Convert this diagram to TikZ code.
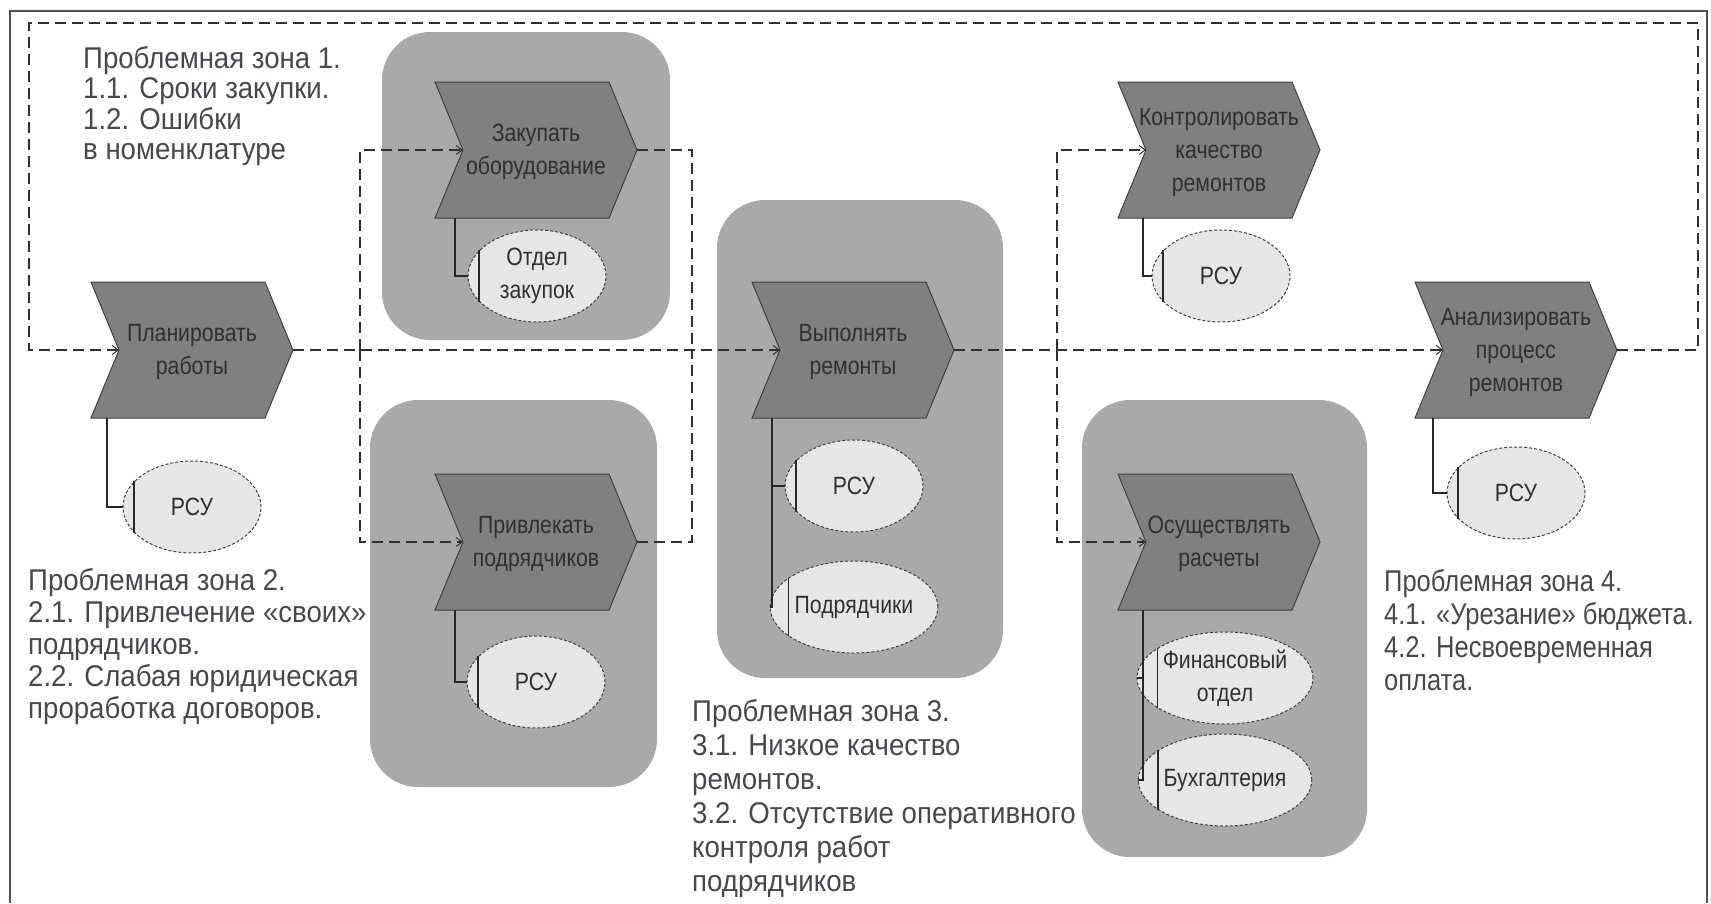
\documentclass[tikz,border=0pt]{standalone}
\usepackage{fontspec}
\setmainfont{Liberation Sans}
\newfontfamily\labfont[FakeStretch=0.85]{Liberation Sans}
\newfontfamily\zonefont[FakeStretch=0.92]{Liberation Sans}
\newfontfamily\zonefontn[FakeStretch=0.85]{Liberation Sans}
\usetikzlibrary{shapes.geometric,arrows.meta}

\definecolor{chevfill}{HTML}{808080}
\definecolor{chevline}{HTML}{404040}
\definecolor{boxfill}{HTML}{A9A9A9}
\definecolor{ellfill}{HTML}{E6E6E6}
\definecolor{flowline}{HTML}{303030}
\definecolor{labtext}{HTML}{303030}
\definecolor{zonetext}{HTML}{45484D}
\definecolor{framecol}{HTML}{505050}

\newcommand\mkchev[5]{%
  \path[chevshape] (#2,#3) -- ++(174,0) -- ++(28,68) -- ++(-28,68) -- ++(-174,0) -- ++(28,-68) -- cycle;
  \coordinate (#1-notch) at (#2+28,#3+68);
  \coordinate (#1-tip) at (#2+202,#3+68);
  \coordinate (#1-stem) at (#2+#5,#3+136);
  \node[chevlabel] (#1) at (#2+101,#3+70) {#4};
}

\begin{document}
\begin{tikzpicture}[x=1pt,y=-1pt,
  chevshape/.style={fill=chevfill,draw=chevline,line width=1pt,line join=miter},
  chevlabel/.style={font=\labfont\fontsize{25}{33}\selectfont,text=labtext,align=center,inner sep=0},
  org/.style={ellipse,draw=chevline,densely dashed,line width=1pt,fill=ellfill,minimum width=138pt,minimum height=92pt,inner sep=0,font=\labfont\fontsize{25}{33}\selectfont,text=labtext,align=center},
  grpbox/.style={fill=boxfill,rounded corners=48pt},
  flow/.style={draw=flowline,line width=2.3pt,dash pattern=on 11pt off 6pt},
  flowarrow/.style={flow,-{Straight Barb[length=6pt,width=9pt,line width=1pt]}},
  stem/.style={draw=black!85,line width=1.4pt},
  zone/.style={font=\zonefont\fontsize{30}{#1}\selectfont,text=zonetext,align=left,anchor=north west,inner sep=0},
  zone/.default=32,
  zonen/.style={zone=#1,font=\zonefontn\fontsize{30}{#1}\selectfont}
]
\useasboundingbox (0,0) rectangle (1711,903);

% group backgrounds
\path[grpbox] (382,32) rectangle (670,340);
\path[grpbox] (370,400) rectangle (657,787);
\path[grpbox] (717,200) rectangle (1003,678);
\path[grpbox] (1082,400) rectangle (1367,857);

% chevrons
\mkchev{A}{91}{282}{Планировать\\работы}{16}
\mkchev{B}{435}{82}{Закупать\\оборудование}{20}
\mkchev{C}{435}{474}{Привлекать\\подрядчиков}{20}
\mkchev{D}{752}{282}{Выполнять\\ремонты}{20}
\mkchev{E}{1118}{82}{Контролировать\\качество\\ремонтов}{25}
\mkchev{F}{1415}{282}{Анализировать\\процесс\\ремонтов}{18}
\mkchev{G}{1118}{474}{Осуществлять\\расчеты}{25}

% organisational units
\node[org] (Ar) at (192,507) {РСУ};
\node[org] (Br) at (537,276) {Отдел\\закупок};
\node[org] (Cr) at (536,682) {РСУ};
\node[org] (Dr1) at (854,486) {РСУ};
\node[org] (Dr2) at (854,607) {Подрядчики};
\node[org] (Er) at (1221,276) {РСУ};
\node[org] (Fr) at (1516,493) {РСУ};
\node[org] (Gr1) at (1225,678) {Финансовый\\отдел};
\node[org] (Gr2) at (1225,780) {Бухгалтерия};

\foreach \e in {Ar,Br,Cr,Dr1,Dr2,Er,Fr,Gr1,Gr2}{\draw[stem] (\e.156) -- (\e.204);}

% stems
\draw[stem] (A-stem) |- (Ar.west);
\draw[stem] (B-stem) |- (Br.west);
\draw[stem] (C-stem) |- (Cr.west);
\draw[stem] (D-stem) |- (Dr1.west);
\draw[stem] (D-stem) |- (Dr2.west);
\draw[stem] (E-stem) |- (Er.west);
\draw[stem] (F-stem) |- (Fr.west);
\draw[stem] (G-stem) |- (Gr1.west);
\draw[stem] (G-stem) |- (Gr2.west);

% flows
\coordinate (c1) at (1698,23);
\coordinate (c2) at (29,23);
\coordinate (j1) at (360,350);
\coordinate (j2) at (692,350);
\coordinate (j3) at (1057,350);
\draw[flowarrow] (F-tip) -| (c1) -- (c2) |- (A-notch);
\draw[flowarrow] (A-tip) -- (D-notch);
\draw[flowarrow] (j1) |- (B-notch);
\draw[flowarrow] (j1) |- (C-notch);
\draw[flow] (B-tip) -| (j2);
\draw[flow] (C-tip) -| (j2);
\draw[flowarrow] (D-tip) -- (F-notch);
\draw[flowarrow] (j3) |- (E-notch);
\draw[flowarrow] (j3) |- (G-notch);

% problem zones
\node[zone=30.5] (z1) at (83,46) {Проблемная зона 1.\\1.1. Сроки закупки.\\1.2. Ошибки\\в номенклатуре};
\node[zone=32] (z2) at (28,568) {Проблемная зона 2.\\2.1. Привлечение «своих»\\подрядчиков.\\2.2. Слабая юридическая\\проработка договоров.};
\node[zone=34] (z3) at (692,699) {Проблемная зона 3.\\3.1. Низкое качество\\ремонтов.\\3.2. Отсутствие оперативного\\контроля работ\\подрядчиков};
\node[zonen=33] (z4) at (1384,569) {Проблемная зона 4.\\4.1. «Урезание» бюджета.\\4.2. Несвоевременная\\оплата.};

% frame
\draw[framecol,line width=2.6pt] (10,903) -- (10,11) -- (1707,11) -- (1707,903);
\end{tikzpicture}
\end{document}
